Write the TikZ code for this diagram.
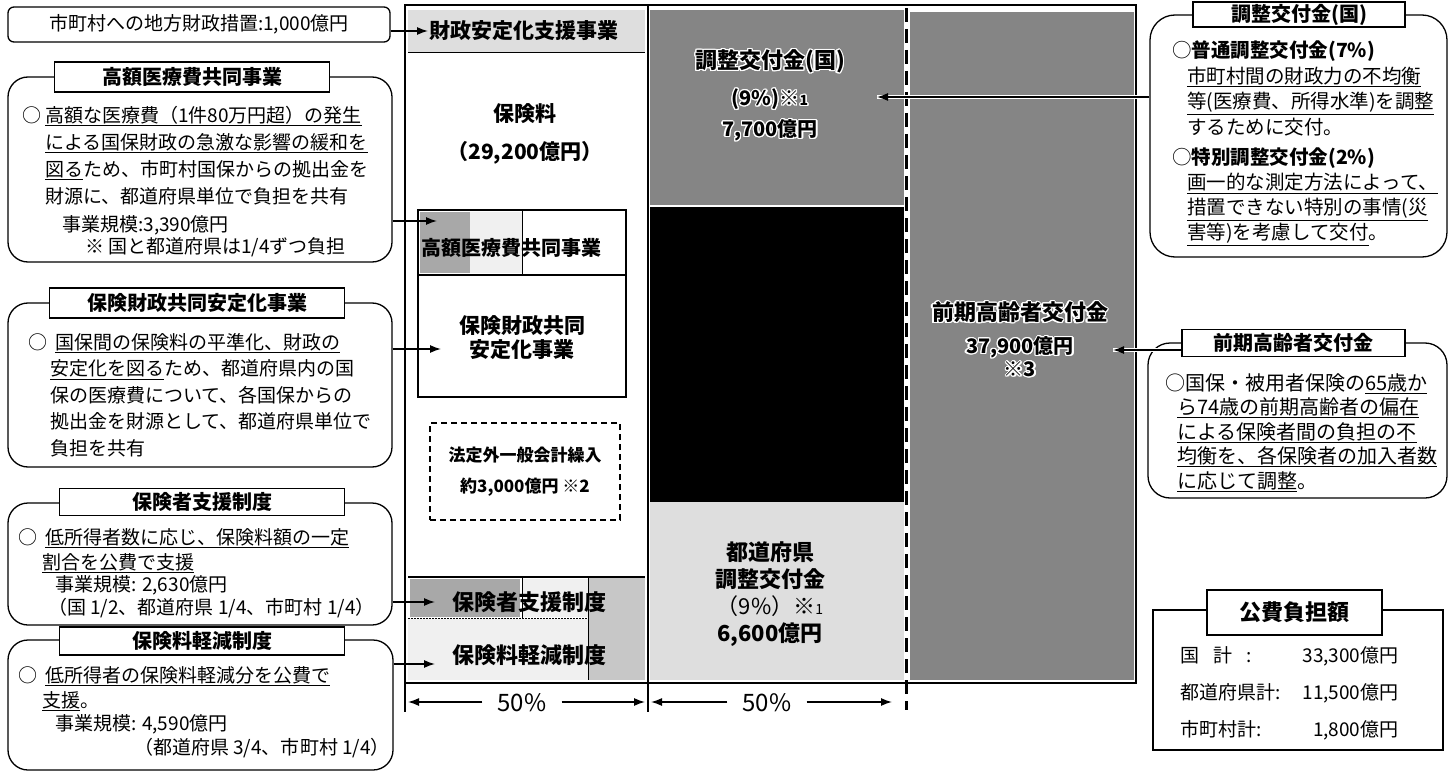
\documentclass[tikz,border=0pt]{standalone}
\usepackage{fontspec}
\setmainfont{Noto Sans CJK JP}
\usepackage{contour}
\contourlength{1.2pt}
\usetikzlibrary{arrows.meta,positioning}

\newcommand{\fsz}[2]{\fontsize{#1}{#2}\selectfont}
\newcommand{\uln}[1]{\underline{#1}}
\newcommand{\halo}[1]{\contour{white}{#1}}

\definecolor{dkshade}{gray}{0.52}
\definecolor{mdshade}{gray}{0.66}
\definecolor{ltshade}{gray}{0.87}
\definecolor{paleshade}{gray}{0.94}
\definecolor{sideshade}{gray}{0.78}

\begin{document}
\begin{tikzpicture}[x=1pt, y=-1pt, >={Latex[length=11pt,width=8pt]},
  callout/.style={draw, line width=1.3pt, rounded corners=20pt, inner sep=0pt},
  ttlbox/.style={draw, fill=white, line width=1.3pt, inner sep=0pt, font=\fsz{20}{20}\bfseries},
  body/.style={anchor=north west, align=left, inner sep=0pt, font=\fsz{19}{27}},
  txtline/.style={anchor=west, inner sep=0pt, font=\fsz{19}{19}},
  colbold/.style={inner sep=0pt, font=\fsz{21}{21}\bfseries},
  arr/.style={->, line width=1.4pt},
  frame/.style={line width=2.5pt}]

\useasboundingbox (0,0) rectangle (1454,773);

%% =============== Left side: callouts ===============

% --- 地方財政措置 ---
\node[draw, line width=1.3pt, rounded corners=6pt, minimum width=382pt,
      minimum height=35pt, inner sep=0pt, font=\fsz{19}{19}] (chihoBox) at (199,24.5)
  {市町村への地方財政措置:1,000億円\hspace{22pt}};

% --- 高額医療費共同事業 ---
\node[callout, minimum width=384pt, minimum height=185pt] (kogakuBox) at (200,169.5) {};
\node[ttlbox, minimum width=275pt, minimum height=30pt] (kogakuTtl) at (192,77) {高額医療費共同事業};
\node[body] (kogakuTxt) at (45,106)
  {\llap{○\hspace{4pt}}\uln{高額な医療費（1件80万円超）の発生}\\
   \uln{による国保財政の急激な影響の緩和を}\\
   \uln{図る}ため、市町村国保からの拠出金を\\
   財源に、都道府県単位で負担を共有};
\node[txtline] (kogakuScale) at (62,225) {事業規模:3,390億円};
\node[txtline] (kogakuNote) at (85,247) {※ 国と都道府県は1/4ずつ負担};

% --- 保険財政共同安定化事業 ---
\node[callout, minimum width=384pt, minimum height=164pt] (zaiseiBox) at (200,385) {};
\node[ttlbox, minimum width=295pt, minimum height=30pt] (zaiseiTtl) at (197,303) {保険財政共同安定化事業};
\node[body, font=\fsz{19}{26.5}] (zaiseiTxt) at (50,333)
  {\hspace{5pt}\llap{○\hspace{8pt}}\uln{国保間の保険料の平準化、財政の}\\
   \uln{安定化を図る}ため、都道府県内の国\\
   保の医療費について、各国保からの\\
   拠出金を財源として、都道府県単位で\\
   負担を共有};

% --- 保険者支援制度 ---
\node[callout, minimum width=384pt, minimum height=122pt] (shienBox) at (200,564) {};
\node[ttlbox, minimum width=285pt, minimum height=27pt] (shienTtl) at (202,502) {保険者支援制度};
\node[body, font=\fsz{19}{25}] (shienTxt) at (42,528)
  {\hspace{3pt}\llap{○\hspace{8pt}}\uln{低所得者数に応じ、保険料額の一定}\\
   \uln{割合を公費で支援}};
\node[txtline] (shienScale) at (55,585) {事業規模: 2,630億円};
\node[txtline] (shienNote) at (48,608) {（国 1/2、都道府県 1/4、市町村 1/4）};

% --- 保険料軽減制度 ---
\node[callout, minimum width=385pt, minimum height=130pt] (keigenBox) at (200.5,705) {};
\node[ttlbox, minimum width=285pt, minimum height=28pt] (keigenTtl) at (202,641) {保険料軽減制度};
\node[body, font=\fsz{19}{25}] (keigenTxt) at (42,666)
  {\hspace{3pt}\llap{○\hspace{8pt}}\uln{低所得者の保険料軽減分を公費で}\\
   \uln{支援}。};
\node[txtline] (keigenScale) at (55,724) {事業規模: 4,590億円};
\node[txtline, anchor=east] (keigenNote) at (390,748) {（都道府県 3/4、市町村 1/4）};

%% =============== Centre: the three columns ===============

% --- Left column (保険料) ---
\fill[ltshade] (408,10) rectangle (645,52);
\draw[line width=0.8pt] (408,52) -- (645,52);
\node[colbold] (anteiCell) at (524,31) {財政安定化支援事業};

\node[colbold] (hokenCell) at (525,114) {保険料};
\node[colbold] (hokenSum) at (525,153) {（29,200億円）};

\fill[mdshade] (420,212) rectangle (470,273);
\fill[paleshade] (470,212) rectangle (522,273);
\draw[line width=1.2pt] (418,210) rectangle (626,397);
\draw[line width=1.2pt] (418,275) -- (626,275);
\draw[line width=0.8pt] (522,210) -- (522,275);
\node[colbold, font=\fsz{20}{20}\bfseries] (kogakuCell) at (511,248) {高額医療費共同事業};
\node[colbold, align=center, font=\fsz{21}{24}\bfseries] (zaiseiCell) at (522,338) {保険財政共同\\安定化事業};

\node[draw, dash pattern=on 6pt off 4pt, line width=1.3pt, minimum width=190pt,
      minimum height=97pt, align=center, font=\fsz{17}{31}\bfseries] (hoteiCell) at (525,471.5)
  {法定外一般会計繰入\\約3,000億円 ※2};

\fill[mdshade] (410,579) rectangle (520,617);
\fill[paleshade] (522,579) rectangle (588,617);
\fill[paleshade] (408,619) rectangle (588,680);
\fill[sideshade] (588,577) rectangle (645,680);
\draw[line width=1.2pt] (408,577) -- (645,577);
\draw[line width=0.8pt] (522,577) -- (522,618);
\draw[line width=0.8pt] (588,577) -- (588,680);
\draw[line width=0.8pt, dash pattern=on 2pt off 1pt] (408,618) -- (588,618);
\node[colbold, font=\fsz{22}{22}\bfseries] (shienCell) at (529,602) {保険者支援制度};
\node[colbold, font=\fsz{22}{22}\bfseries] (keigenCell) at (529,655) {保険料軽減制度};

% --- Middle column (調整交付金) ---
\fill[dkshade] (650,10) rectangle (904,205);
\fill[black] (650,207) rectangle (904,502);
\fill[ltshade] (650,502) rectangle (904,680);

\node[colbold, font=\fsz{22}{22}\bfseries] (chokokuCell) at (770,62) {\halo{調整交付金(国)}};
\node[colbold, font=\fsz{20}{20}\bfseries] (chokokuPct) at (770,100) {\halo{(9\%)※{\fsz{14}{14}1}}};
\node[colbold, font=\fsz{20}{20}\bfseries] (chokokuSum) at (770,131) {\halo{7,700億円}};

\node[align=center, inner sep=0pt, font=\fsz{22}{27}\bfseries] (todoCell) at (770,594)
  {都道府県\\調整交付金\\{\mdseries （9\%）※{\fsz{14}{14}1}}\\6,600億円};

% --- Right column (前期高齢者交付金) ---
\fill[dkshade] (910,12) rectangle (1134,680);
\node[colbold, font=\fsz{22}{22}\bfseries] (zenkiCell) at (1020,313) {\halo{前期高齢者交付金}};
\node[colbold, font=\fsz{20}{20}\bfseries] (zenkiSum) at (1020,348) {\halo{37,900億円}};
\node[colbold, font=\fsz{20}{20}\bfseries] (zenkiNote) at (1020,370) {\halo{※3}};

% --- Frame and dividers ---
\draw[frame] (405,5) rectangle (1136,683);
\draw[frame] (648,5) -- (648,712);
\draw[frame] (405,683) -- (405,712);
\draw[line width=3pt, dash pattern=on 14pt off 7pt] (906,8) -- (906,710);

% --- 50% / 50% ---
\node[inner ysep=0pt, inner xsep=15pt, font=\fsz{24}{24}] (pctLeft) at (522,703) {50\%};
\node[inner ysep=0pt, inner xsep=15pt, font=\fsz{24}{24}] (pctRight) at (767,703) {50\%};
\coordinate (dimA) at (408,702);
\coordinate (dimB) at (645,702);
\coordinate (dimC) at (651,702);
\coordinate (dimD) at (892,702);
\draw[arr] (pctLeft.west |- dimA) -- (dimA);
\draw[arr] (pctLeft.east |- dimB) -- (dimB);
\draw[arr] (pctRight.west |- dimC) -- (dimC);
\draw[arr] (pctRight.east |- dimD) -- (dimD);

%% =============== Right side: callouts ===============

% --- 調整交付金(国) ---
\node[callout, rounded corners=25pt, minimum width=297pt, minimum height=242pt] (chokokuBox) at (1298.5,136) {};
\node[ttlbox, minimum width=212pt, minimum height=25pt] (chokokuTtl) at (1299,14.5) {調整交付金(国)};
\node[body, font=\fsz{19.5}{25.5}] (chokokuTxtA) at (1187,41)
  {\hspace{-15pt}○\textbf{普通調整交付金(7\%)}\\
   \uln{市町村間の財政力の不均衡}\\
   \uln{等(医療費、所得水準)を調整}\\
   するために交付。};
\node[body, font=\fsz{19.5}{25}] (chokokuTxtB) at (1187,148)
  {\hspace{-15pt}○\textbf{特別調整交付金(2\%)}\\
   \uln{画一的な測定方法によって、}\\
   \uln{措置できない特別の事情(災}\\
   \uln{害等)を考慮して交付}。};

% --- 前期高齢者交付金 ---
\node[callout, rounded corners=22pt, minimum width=299pt, minimum height=155pt] (zenkiBox) at (1297.5,420.5) {};
\node[ttlbox, minimum width=223pt, minimum height=27pt] (zenkiTtl) at (1293.5,343) {前期高齢者交付金};
\node[body, font=\fsz{20}{24.5}] (zenkiTxt) at (1177,373)
  {\hspace{-12pt}○国保・被用者保険の\uln{65歳か}\\
   \uln{ら74歳の前期高齢者の偏在}\\
   \uln{による保険者間の負担の不}\\
   \uln{均衡を、各保険者の加入者数}\\
   \uln{に応じて調整}。};

% --- 公費負担額 ---
\node[draw, line width=1.2pt, minimum width=290pt, minimum height=140pt, inner sep=0pt] (kohiBox) at (1298,680) {};
\node[ttlbox, minimum width=175pt, minimum height=45pt, font=\fsz{22}{22}\bfseries] (kohiTtl) at (1294.5,612.5) {公費負担額};
\node[anchor=north west, inner sep=0pt, font=\fsz{19}{37}] (kohiTxt) at (1180,636)
  {\begin{tabular}{@{}l@{\hspace{22pt}}r@{}}
    国\hspace{14pt}計\hspace{14pt}: & 33,300億円\\
    都道府県計: & 11,500億円\\
    市町村計: & 1,800億円
   \end{tabular}};

%% =============== Arrows into the columns ===============
\coordinate (tipChiho) at (428,31);
\coordinate (tipKogaku) at (437,221);
\coordinate (tipZaisei) at (441,349);
\coordinate (tipShien) at (435,602);
\coordinate (tipKeigen) at (435,664);
\coordinate (tipChokoku) at (877,97);
\coordinate (tipZenki) at (1113,350);

\draw[arr] (chihoBox.east |- tipChiho) -- (tipChiho);
\draw[arr] (kogakuBox.east |- tipKogaku) -- (tipKogaku);
\draw[arr] (zaiseiBox.east |- tipZaisei) -- (tipZaisei);
\draw[arr] (shienBox.east |- tipShien) -- (tipShien);
\draw[arr] (keigenBox.east |- tipKeigen) -- (tipKeigen);
\draw[arr, preaction={draw=white, line width=4.5pt, -}] (chokokuBox.west |- tipChokoku) -- (tipChokoku);
\draw[arr, preaction={draw=white, line width=4.5pt, -}] (zenkiTtl.west |- tipZenki) -- (tipZenki);

\end{tikzpicture}
\end{document}
